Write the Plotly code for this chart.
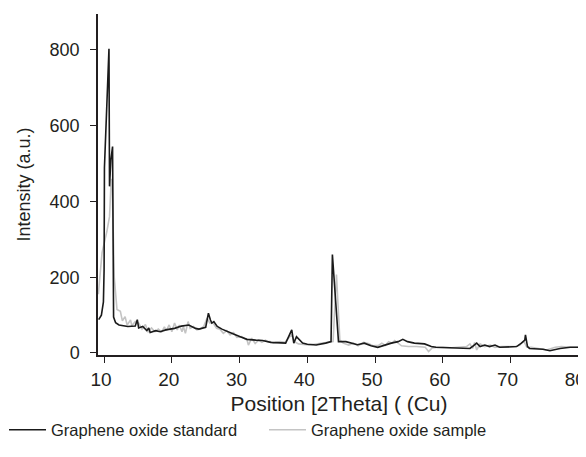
import plotly.graph_objects as go

# Graphene oxide standard (black)
std_x = [9.2, 9.6, 9.9, 10.0, 10.05, 10.72, 10.8, 11.0, 11.25, 11.3, 11.4, 11.7, 12.2, 13.5,
         14.6, 14.9, 15.1, 15.7, 16.3, 16.6, 16.8, 17.6, 18.3, 19.1, 20.4, 21.4, 22.5, 23.5,
         24.0, 25.0, 25.4, 25.7, 25.9, 26.2, 26.7, 27.4, 28.2, 29.1, 30.1, 31.1, 32.4, 33.4,
         34.6, 35.8, 36.8, 37.7, 38.0, 38.4, 39.3, 40.0, 41.3, 42.7, 43.5, 43.7, 44.6, 45.7,
         46.4, 47.4, 48.4, 49.4, 50.4, 51.4, 52.4, 53.4, 54.1, 54.8, 55.8, 57.3, 58.3, 59.0,
         61.5, 64.0, 64.5, 65.0, 65.5, 66.2, 66.9, 67.7, 68.4, 70.9, 71.6, 72.1, 72.2, 72.5,
         72.8, 74.8, 75.8, 77.3, 78.8, 80.3]
std_y = [88, 100, 135, 220, 490, 803, 440, 510, 545, 160, 95, 80, 74, 70,
         71, 88, 66, 70, 59, 66, 54, 59, 56, 61, 65, 71, 74, 65,
         63, 68, 105, 87, 79, 83, 70, 63, 56, 50, 43, 36, 34, 33,
         28, 28, 26, 61, 26, 43, 26, 23, 21, 26, 30, 260, 30, 30,
         26, 22, 26, 19, 15, 21, 26, 30, 36, 30, 26, 24, 17, 15,
         14, 12, 19, 26, 17, 21, 17, 21, 15, 17, 26, 34, 48, 17,
         12, 10, 6, 12, 15, 15]

# Graphene oxide sample (grey)
smp_x = [9.15, 9.7, 10.4, 10.8, 11.05, 11.2, 11.5, 11.9, 12.4, 12.7, 13.1, 13.4, 13.9, 14.1,
         14.6, 15.1, 15.6, 16.1, 16.5, 17.0, 17.5, 18.0, 18.5, 18.9, 19.2, 19.6, 20.0, 20.4,
         20.8, 21.1, 21.5, 21.7, 22.0, 22.4, 22.7, 23.2, 23.7, 24.2, 24.7, 25.2, 25.6, 26.1,
         26.6, 27.1, 27.6, 28.1, 28.6, 29.1, 29.6, 30.3, 31.1, 31.3, 31.8, 32.3, 32.8, 33.3,
         33.8, 34.2, 34.5, 35.0, 36.0, 36.7, 37.2, 37.7, 38.1, 38.7, 40.2, 41.6, 43.1, 43.8,
         44.3, 44.8, 45.3, 46.1, 46.8, 47.5, 48.3, 49.0, 49.7, 50.5, 51.0, 51.5, 52.0, 52.5,
         52.9, 53.4, 53.9, 54.9, 56.1, 57.4, 57.9, 58.4, 59.3, 61.3, 63.5, 64.0, 64.4, 64.7,
         65.0, 65.5, 66.2, 67.0, 67.7, 68.7, 70.7, 71.4, 71.6, 72.0, 72.4, 73.1, 74.3, 75.3,
         76.6, 77.5, 78.8, 80.0]
smp_y = [155, 265, 320, 360, 460, 440, 200, 115, 110, 85, 96, 74, 87, 72,
         83, 79, 63, 75, 56, 66, 56, 63, 56, 69, 59, 74, 56, 79,
         61, 74, 56, 70, 52, 83, 65, 70, 61, 63, 70, 92, 79, 79,
         65, 63, 52, 59, 48, 54, 41, 43, 34, 21, 39, 25, 34, 28,
         34, 30, 30, 26, 30, 28, 39, 48, 30, 24, 21, 24, 28, 30,
         207, 34, 26, 21, 26, 19, 28, 25, 19, 20, 26, 20, 30, 26,
         33, 26, 19, 17, 17, 15, 4, 13, 15, 14, 17, 24, 12, 28,
         8, 24, 17, 21, 15, 17, 17, 21, 26, 30, 15, 15, 12, 8,
         15, 17, 15, 15]

x_ticks = [10, 20, 30, 40, 50, 60, 70, 80]
y_ticks = [0, 200, 400, 600, 800]

FONT = "Liberation Sans, Arial, sans-serif"
TXT = "#231f20"

fig = go.Figure()
fig.add_trace(go.Scatter(x=smp_x, y=smp_y, mode="lines", name="Graphene oxide sample",
                         line=dict(color="#c4c4c4", width=1.6), legendrank=2))
fig.add_trace(go.Scatter(x=std_x, y=std_y, mode="lines", name="Graphene oxide standard",
                         line=dict(color="#1a1a1a", width=1.6), legendrank=1))

# page body adds an 8px margin, so the figure is 8px smaller and margins shifted
fig.update_layout(
    width=578, height=449,
    margin=dict(l=90, r=6, t=6, b=102, autoexpand=False),
    paper_bgcolor="white", plot_bgcolor="white",
    font=dict(family=FONT, color=TXT, size=16),
    showlegend=True,
    legend=dict(orientation="h", x=-0.195, xanchor="left", y=-0.22, yanchor="middle",
                font=dict(size=16.5, color=TXT), bgcolor="rgba(0,0,0,0)",
                itemwidth=37, entrywidth=208, entrywidthmode="pixels",
                traceorder="normal"),
    xaxis=dict(range=[9.1, 80.25], tickvals=x_ticks, ticks="outside",
               ticklen=6, tickwidth=1.3, tickcolor="#231f20", showline=True,
               linecolor="#231f20", linewidth=1.5, showgrid=False, zeroline=False,
               tickfont=dict(size=19), ticklabeloverflow="allow", ticklabelshift=-3,
               title=dict(text="Position [2Theta] ( (Cu)", font=dict(size=21), standoff=8)),
    yaxis=dict(range=[-5.3, 895], tickvals=y_ticks, ticks="outside", ticklen=6,
               tickwidth=1.3, tickcolor="#231f20", showline=True, linecolor="#231f20",
               linewidth=1.5, showgrid=False, zeroline=False,
               tickfont=dict(size=18), ticklabelstandoff=7,
               title=dict(text="Intensity (a.u.)", font=dict(size=18), standoff=14)),
)

fig.write_html("out.html")
